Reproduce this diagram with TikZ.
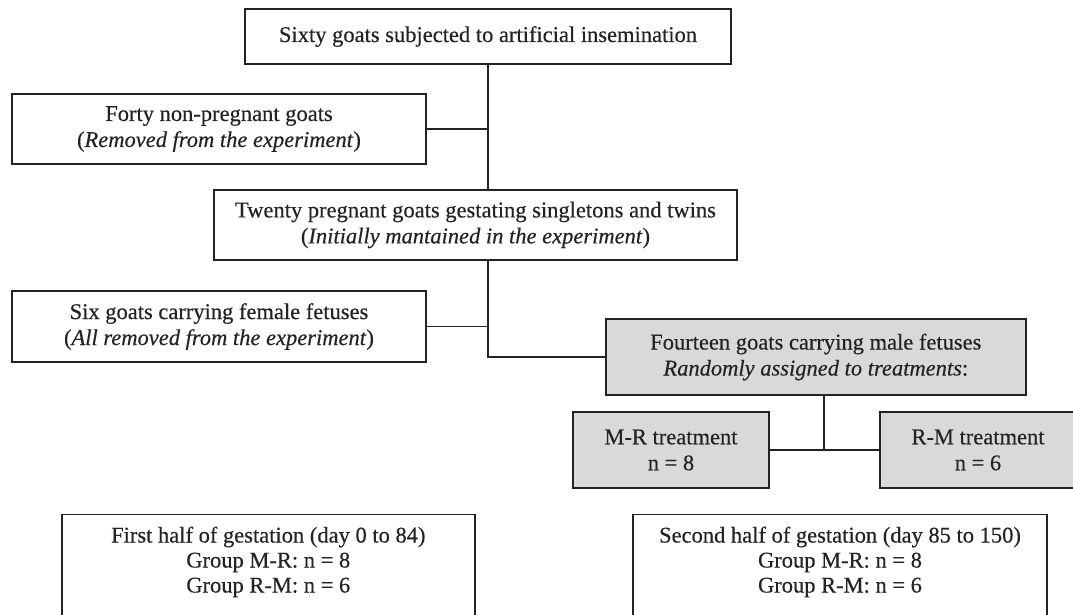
\documentclass[tikz,border=0pt]{standalone}
\usepackage{fontspec}
\setmainfont{Liberation Serif}[FakeBold=0.35]
\definecolor{boxgray}{RGB}{217,217,217}
\definecolor{ink}{RGB}{35,35,35}
\tikzset{
  box/.style={draw=ink, line width=1.4pt, fill=white, inner sep=0pt, align=center,
    text=ink, font=\fontsize{22.5}{26}\selectfont},
  graybox/.style={box, fill=boxgray},
  conn/.style={draw=ink, line width=1.4pt},
  txt/.style={inner sep=0pt, align=center, text=ink, font=\fontsize{22.5}{25}\selectfont}
}
\begin{document}
\begin{tikzpicture}[x=1pt,y=-1pt]
\useasboundingbox (0,0) rectangle (1073,614);
\clip (0,0) rectangle (1073,614);
\fill[white] (0,0) rectangle (1073,614);

\node[box, minimum width=486, minimum height=55] (sixty) at (488,36.5)
  {Sixty goats subjected to artificial insemination};
\node[box, minimum width=414, minimum height=70] (forty) at (219,129)
  {Forty non-pregnant goats\\(\textit{Removed from the experiment})};
\node[box, minimum width=523, minimum height=70] (twenty) at (475.5,225)
  {Twenty pregnant goats gestating singletons and twins\\(\textit{Initially mantained in the experiment})};
\node[box, minimum width=414, minimum height=71] (six) at (219,326.5)
  {Six goats carrying female fetuses\\(\textit{All removed from the experiment})};
\node[graybox, minimum width=420, minimum height=76] (fourteen) at (815.8,357)
  {Fourteen goats carrying male fetuses\\\textit{Randomly assigned to treatments}:};
\node[graybox, minimum width=196, minimum height=76] (mr) at (671,450)
  {M-R treatment\\n = 8};
\node[graybox, minimum width=196, minimum height=76] (rm) at (978,450)
  {R-M treatment\\n = 6};

\node[box, minimum width=413, minimum height=150, anchor=north] (first) at (268.3,514) {};
\node[txt] (firsttxt) at (268.3,562)
  {First half of gestation (day 0 to 84)\\Group M-R: n = 8\\Group R-M: n = 6};
\node[box, minimum width=414, minimum height=150, anchor=north] (second) at (840,514) {};
\node[txt] (secondtxt) at (840,562)
  {Second half of gestation (day 85 to 150)\\Group M-R: n = 8\\Group R-M: n = 6};

\coordinate (spine) at (488,0);
\coordinate (split) at (824,0);

\draw[conn] (sixty.south) -- (sixty.south |- twenty.north);
\draw[conn] (forty.east) -- (forty.east -| spine);
\draw[conn] (twenty.south -| spine) |- (fourteen.west);
\draw[conn] (six.east) -- (six.east -| spine);
\draw[conn] (fourteen.south -| split) -- (mr.east -| split);
\draw[conn] (mr.east) -- (rm.west);
\end{tikzpicture}
\end{document}
